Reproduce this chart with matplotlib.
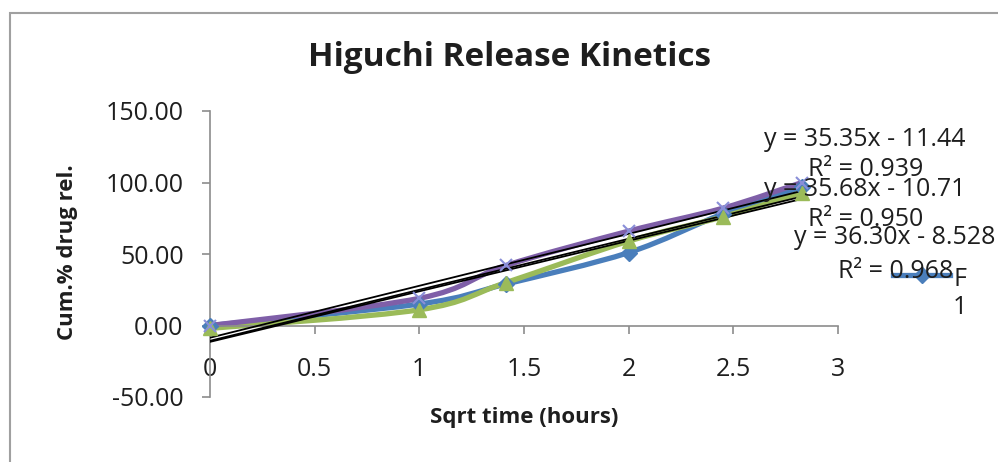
import numpy as np
import matplotlib.pyplot as plt
from matplotlib.path import Path
from matplotlib.patches import PathPatch, Rectangle
from matplotlib.lines import Line2D

plt.rcParams['font.family'] = ['Open Sans', 'DejaVu Sans']

# square root of sampling time (hours)
sqrt_t = [0, 1, 1.414, 2, 2.449, 2.828]

# cumulative % drug released
f1 = [0, 15, 29, 51, 78, 97]
f2 = [-2, 11, 30, 59, 76, 93]
f3 = [0, 19, 42, 66, 82, 100]

# linear trendlines (slope, intercept, R^2)
slopes = [35.35, 35.68, 36.30]
intercepts = [-11.44, -10.71, -8.528]
r2 = [0.939, 0.950, 0.968]
intercept_txt = ['11.44', '10.71', '8.528']

xticks = [0, 0.5, 1, 1.5, 2, 2.5, 3]
yticks = [-50, 0, 50, 100, 150]

blue = '#4a7ebb'
green = '#9bbb59'
purple = '#7f5fa8'
xcol = '#8a8fd8'
txt = '#1e1e1e'


def smooth_path(x, y):
    # bezier spline through the points, like a "smoothed line" series
    p = np.column_stack([x, y]).astype(float)
    pts = np.vstack([p[0], p, p[-1]])
    verts = [p[0]]
    codes = [Path.MOVETO]
    for i in range(1, len(pts) - 2):
        c1 = pts[i] + (pts[i + 1] - pts[i - 1]) / 6
        c2 = pts[i + 1] - (pts[i + 2] - pts[i]) / 6
        verts += [c1, c2, pts[i + 1]]
        codes += [Path.CURVE4] * 3
    return Path(verts, codes)


def fx(px):
    return px / 998


def fy(py):
    return 1 - py / 462


fig = plt.figure(figsize=(9.98, 4.62), dpi=100)
ax = fig.add_axes([fx(210), fy(397), 628 / 998, 286 / 462])

# outer chart frame
fig.patches.append(Rectangle((fx(10), -0.1), 1.2, fy(13) + 0.1,
                             transform=fig.transFigure, fill=False,
                             edgecolor='#a0a0a0', lw=1.5))

for yy, col in [(f1, blue), (f2, green), (f3, purple)]:
    ax.add_patch(PathPatch(smooth_path(sqrt_t, yy), fill=False,
                           edgecolor=col, lw=3.8, capstyle='round', zorder=2))

xs = np.array([0, sqrt_t[-1]])
for a, b in zip(slopes, intercepts):
    ax.plot(xs, a * xs + b, color='black', lw=1.3, zorder=3)

ax.plot(sqrt_t, f1, ls='none', marker='D', ms=8, color=blue, zorder=4,
        clip_on=False)
ax.plot(sqrt_t, f2, ls='none', marker='^', ms=10, color=green, zorder=4,
        clip_on=False)
ax.plot(sqrt_t, f3, ls='none', marker='x', ms=9, mew=1.5, color=xcol,
        zorder=4, clip_on=False)

ax.set_xlim(0, 3)
ax.set_ylim(-50, 150)
ax.set_xticks(xticks)
ax.set_xticklabels(['0', '0.5', '1', '1.5', '2', '2.5', '3'])
ax.set_yticks(yticks)
ax.set_yticklabels(['%.2f' % v for v in yticks])

for s in ['top', 'right']:
    ax.spines[s].set_visible(False)
ax.spines['bottom'].set_position(('data', 0))
for s in ['left', 'bottom']:
    ax.spines[s].set_color('#8c8c8c')
    ax.spines[s].set_linewidth(1.2)
ax.tick_params(axis='both', colors='#8c8c8c', labelcolor=txt,
               labelsize=18, length=6, width=1.2)
ax.tick_params(axis='x', pad=17)
ax.tick_params(axis='y', pad=13)

fig.text(fx(510), fy(57), 'Higuchi Release Kinetics', fontsize=24,
         fontweight='bold', ha='center', va='center', color=txt)
fig.text(fx(524), fy(417), 'Sqrt time (hours)', fontsize=16,
         fontweight='bold', ha='center', va='center', color=txt)
fig.text(fx(68), fy(252), 'Cum.% drug rel.', fontsize=16,
         fontweight='bold', ha='center', va='center', rotation=90, color=txt)

# trendline equations
eq_pos = [(865, 140, 866, 170), (865, 190, 866, 220), (895, 238, 896, 271)]
for (ex, ey, rx, ry), a, bt, r in zip(eq_pos, slopes, intercept_txt, r2):
    fig.text(fx(ex), fy(ey), 'y = %.2fx - %s' % (a, bt),
             fontsize=18, ha='center', va='center', color=txt)
    fig.text(fx(rx), fy(ry), 'R² = %.3f' % r,
             fontsize=18, ha='center', va='center', color=txt)

# legend (clipped series name)
fig.add_artist(Line2D([fx(893), fx(950)], [fy(275)] * 2,
                      color=blue, lw=3.8))
fig.add_artist(Line2D([fx(921.5)], [fy(275)], color=blue,
                      marker='D', ms=8, ls='none'))
fig.text(fx(953), fy(279), 'F', fontsize=18, va='center', color=txt)
fig.text(fx(953), fy(307), '1', fontsize=18, va='center', color=txt)

fig.savefig('out.png', dpi=100)
